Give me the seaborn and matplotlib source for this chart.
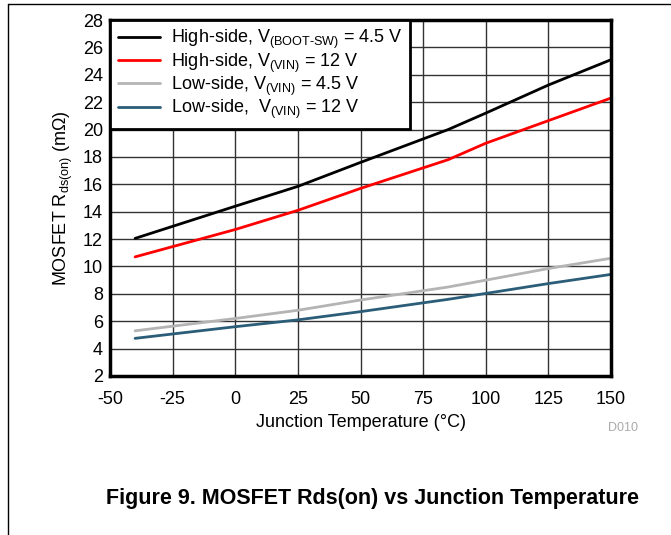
import numpy as np
import pandas as pd
import matplotlib
matplotlib.use("Agg")
import matplotlib.pyplot as plt
import seaborn as sns
from matplotlib.lines import Line2D

# -------------------
# Data
# -------------------
temps = [-40, 0, 25, 50, 85, 100, 125, 150]
hs_boot_45 = [12.05, 14.4, 15.85, 17.6, 20.0, 21.2, 23.25, 25.1]
hs_vin_12 = [10.7, 12.7, 14.1, 15.7, 17.8, 19.0, 20.65, 22.3]
ls_vin_45 = [5.3, 6.2, 6.8, 7.55, 8.5, 9.0, 9.85, 10.6]
ls_vin_12 = [4.75, 5.6, 6.1, 6.7, 7.6, 8.03, 8.75, 9.42]

labels = [
    r"High-side, V$_{\mathregular{(BOOT\text{-}SW)}}$ = 4.5 V",
    r"High-side, V$_{\mathregular{(VIN)}}$ = 12 V",
    r"Low-side, V$_{\mathregular{(VIN)}}$ = 4.5 V",
    r"Low-side,  V$_{\mathregular{(VIN)}}$ = 12 V",
]
colors = ["#000000", "#ff0000", "#b4b4b4", "#2b5d78"]
x_ticks = [-50, -25, 0, 25, 50, 75, 100, 125, 150]
y_ticks = list(range(2, 29, 2))

df = pd.DataFrame({"Temp": temps * 4,
                   "Rds": hs_boot_45 + hs_vin_12 + ls_vin_45 + ls_vin_12,
                   "Series": sum([[lab] * len(temps) for lab in labels], [])})

# -------------------
# Plot
# -------------------
sns.set_style("white")
plt.rcParams["font.family"] = ["Liberation Sans", "DejaVu Sans"]
plt.rcParams["mathtext.fontset"] = "custom"
plt.rcParams["mathtext.rm"] = "Liberation Sans"
plt.rcParams["mathtext.it"] = "Liberation Sans"
plt.rcParams["axes.unicode_minus"] = False
plt.rcParams["text.color"] = "black"
plt.rcParams["axes.labelcolor"] = "black"
plt.rcParams["xtick.color"] = "black"
plt.rcParams["ytick.color"] = "black"

fs = 13

fig = plt.figure(figsize=(6.71, 5.35), dpi=100)
ax = fig.add_axes([0.164, 0.2972, 0.7466, 0.6654])

sns.lineplot(data=df, x="Temp", y="Rds", hue="Series", palette=colors,
             hue_order=labels, linewidth=2, ax=ax, legend=False)

ax.set_xlim(-50, 150)
ax.set_ylim(2, 28)
ax.set_xticks(x_ticks)
ax.set_yticks(y_ticks)
ax.grid(True, color="#333333", linewidth=1)
ax.set_axisbelow(True)
ax.tick_params(axis="x", length=0, labelsize=fs, pad=11)
ax.tick_params(axis="y", length=0, labelsize=fs, pad=5)
for s in ax.spines.values():
    s.set_linewidth(2.5)
    s.set_color("black")

ax.set_xlabel("Junction Temperature (°C)", fontsize=fs, labelpad=4)
ax.set_ylabel(r"MOSFET R$_{\mathregular{ds(on)}}$ (m$\Omega$)", fontsize=fs, labelpad=6)

handles = [Line2D([], [], color=c, linewidth=2) for c in colors]
leg = ax.legend(handles, labels, loc="upper left", bbox_to_anchor=(0, 1),
                borderaxespad=0, fontsize=fs, handlelength=2.3,
                labelspacing=0.0, fancybox=False, framealpha=1,
                edgecolor="black", borderpad=0.45, handletextpad=0.6)
leg.get_frame().set_linewidth(2)

fig.text(0.928, 0.195, "D010", color="#aaaaaa", fontsize=9, ha="center")
fig.text(0.555, 0.058, "Figure 9. MOSFET Rds(on) vs Junction Temperature",
         fontsize=15.5, fontweight="bold", ha="center")

# page frame lines
fig.add_artist(Line2D([0.012, 0.012], [0, 0.992], color="black", linewidth=1))
fig.add_artist(Line2D([0.012, 1], [0.992, 0.992], color="black", linewidth=1))

fig.savefig("out.png", dpi=100)
